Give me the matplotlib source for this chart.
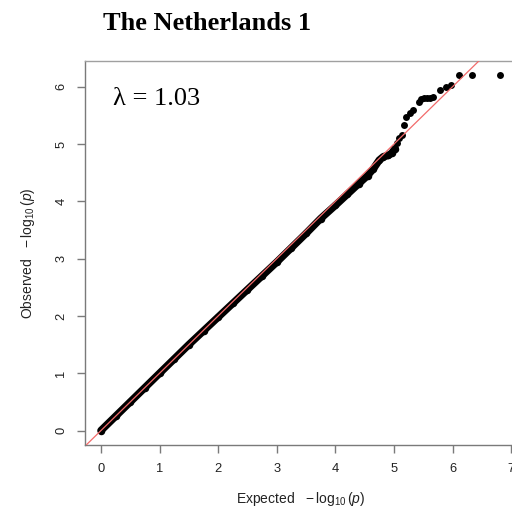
import matplotlib
matplotlib.use("Agg")
import matplotlib.pyplot as plt

plt.rcParams['font.family'] = ['Liberation Sans', 'DejaVu Sans']
plt.rcParams['mathtext.fontset'] = 'custom'
plt.rcParams['mathtext.rm'] = 'Liberation Sans'
plt.rcParams['mathtext.it'] = 'Liberation Sans:italic'
plt.rcParams['mathtext.default'] = 'rm'

# QQ plot of GWAS p-values: expected vs observed -log10(p)
# dense body of the distribution (points lie in a continuous band)
body_expected = [0.00, 0.25, 0.50, 0.75, 1.00, 1.25, 1.50, 1.75, 2.00, 2.25,
                 2.50, 2.75, 3.00, 3.25, 3.50, 3.75, 4.00, 4.20, 4.40, 4.55,
                 4.65, 4.75, 4.82, 4.90, 4.96, 5.02]
body_observed = [0.00, 0.25, 0.50, 0.75, 1.00, 1.25, 1.50, 1.74, 1.98, 2.22,
                 2.46, 2.70, 2.94, 3.19, 3.44, 3.70, 3.93, 4.12, 4.31, 4.45,
                 4.57, 4.72, 4.78, 4.80, 4.84, 4.92]
# sparse upper tail
tail_expected = [5.05, 5.08, 5.13, 5.17, 5.21, 5.28, 5.33, 5.43, 5.47, 5.52,
                 5.57, 5.62, 5.67, 5.78, 5.89, 5.97, 6.11, 6.34, 6.81]
tail_observed = [5.02, 5.10, 5.16, 5.33, 5.48, 5.54, 5.59, 5.74, 5.78, 5.80,
                 5.81, 5.81, 5.82, 5.95, 6.00, 6.03, 6.20, 6.20, 6.20]

x_ticks = [0, 1, 2, 3, 4, 5, 6, 7]
y_ticks = [0, 1, 2, 3, 4, 5, 6]
lambda_gc = 1.03

W, H = 512, 507
fig = plt.figure(figsize=(W / 100, H / 100), dpi=100)
ax = fig.add_axes([85 / W, (H - 444.5) / H, 432 / W, 383.5 / H])
ax.set_xlim(-0.273, 7.10)
ax.set_ylim(-0.244, 6.449)

dot_pt = 5.0
ax.plot(body_expected, body_observed, color='black', lw=dot_pt + 0.4,
        solid_capstyle='round', solid_joinstyle='round', zorder=2)
ax.plot(body_expected, body_observed, 'o', color='black', ms=dot_pt + 0.4,
        markeredgewidth=0, zorder=2)
ax.plot(tail_expected, tail_observed, 'o', color='black', ms=dot_pt,
        markeredgewidth=0, zorder=2)

# identity line
ax.axline((0, 0), slope=1, color='#f26b6b', lw=0.9, zorder=3)

for s in ax.spines.values():
    s.set_color('#7a7a7a')
    s.set_linewidth(1.0)
ax.spines['top'].set_color('#a0a0a0')
ax.spines['right'].set_color('#a0a0a0')

ax.set_xticks(x_ticks)
ax.set_yticks(y_ticks)
ax.tick_params(axis='both', length=5.8, width=1.0, color='#7a7a7a',
               labelsize=9.3, labelcolor='#222222')
ax.tick_params(axis='x', pad=7.5)
ax.tick_params(axis='y', pad=7)
for lbl in ax.get_yticklabels():
    lbl.set_rotation(90)
    lbl.set_va('center')

lab_font = dict(family='Liberation Sans', size=10, color='#222222')
ax.set_xlabel(r'Expected   $-\,\log_{10}(\mathit{p})$', labelpad=11, **lab_font)
ax.set_ylabel(r'Observed   $-\,\log_{10}(\mathit{p})$', labelpad=13, **lab_font)

ax.text(113 / W, 1 - 105 / H, r'λ = %.2f' % lambda_gc, transform=fig.transFigure,
        family='Liberation Serif', size=19, ha='left', va='baseline')
fig.text(103 / W, 1 - 30 / H, 'The Netherlands 1', family='Liberation Serif',
         weight='bold', size=19, ha='left', va='baseline')

fig.savefig('out.png', dpi=100)
